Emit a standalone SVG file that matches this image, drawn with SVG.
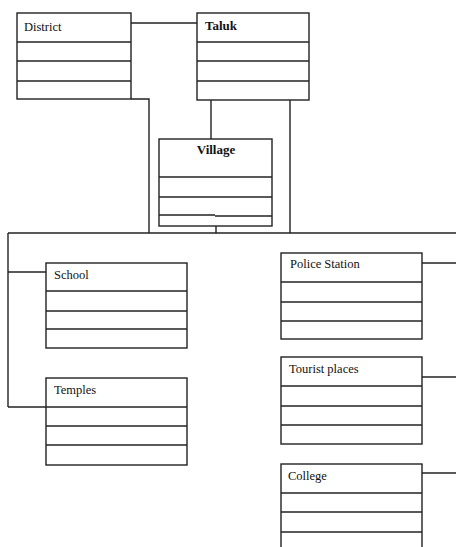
<svg xmlns="http://www.w3.org/2000/svg" width="456" height="547" viewBox="0 0 456 547">
  <style>
    .box { fill: #fff; stroke: #222; stroke-width: 1.4; }
    .div { stroke: #222; stroke-width: 1.4; }
    .conn { fill: none; stroke: #222; stroke-width: 1.4; }
    .lbl { font-family: "Liberation Serif", "Times New Roman", serif; font-size: 12.5px; fill: #111; }
    .bold { font-weight: bold; font-size: 13px; }
  </style>
  <rect width="456" height="547" fill="#fff"/>

  <!-- connectors -->
  <g id="connectors">
    <line class="conn" x1="131" y1="23" x2="197" y2="23"/>
    <polyline class="conn" points="131,99 149,99 149,233"/>
    <line class="conn" x1="211" y1="100" x2="211" y2="139"/>
    <line class="conn" x1="290" y1="100" x2="290" y2="233"/>
    <line class="conn" x1="216" y1="226" x2="216" y2="233"/>
    <line class="conn" x1="8" y1="233" x2="456" y2="233"/>
    <line class="conn" x1="8" y1="233" x2="8" y2="407"/>
    <line class="conn" x1="8" y1="272" x2="46" y2="272"/>
    <line class="conn" x1="8" y1="407" x2="46" y2="407"/>
    <line class="conn" x1="422" y1="263" x2="456" y2="263"/>
    <line class="conn" x1="422" y1="377" x2="456" y2="377"/>
    <line class="conn" x1="422" y1="473" x2="456" y2="473"/>
  </g>

  <g id="district">
    <rect class="box" x="17" y="13" width="114" height="86"/>
    <line class="div" x1="17" y1="42" x2="131" y2="42"/>
    <line class="div" x1="17" y1="61" x2="131" y2="61"/>
    <line class="div" x1="17" y1="81" x2="131" y2="81"/>
    <text class="lbl" x="24" y="31">District</text>
  </g>

  <g id="taluk">
    <rect class="box" x="197" y="13" width="112" height="87"/>
    <line class="div" x1="197" y1="42" x2="309" y2="42"/>
    <line class="div" x1="197" y1="61" x2="309" y2="61"/>
    <line class="div" x1="197" y1="81" x2="309" y2="81"/>
    <text class="lbl bold" x="205" y="30">Taluk</text>
  </g>

  <g id="village">
    <rect class="box" x="159" y="139" width="113" height="87"/>
    <line class="div" x1="159" y1="177" x2="272" y2="177"/>
    <line class="div" x1="159" y1="197" x2="272" y2="197"/>
    <line class="div" x1="159" y1="215" x2="215" y2="215"/>
    <line class="div" x1="215" y1="216" x2="272" y2="216"/>
    <text class="lbl bold" x="216" y="154" text-anchor="middle">Village</text>
  </g>

  <g id="school">
    <rect class="box" x="46" y="263" width="141" height="85"/>
    <line class="div" x1="46" y1="291" x2="187" y2="291"/>
    <line class="div" x1="46" y1="311" x2="187" y2="311"/>
    <line class="div" x1="46" y1="329" x2="187" y2="329"/>
    <text class="lbl" x="54" y="279">School</text>
  </g>

  <g id="temples">
    <rect class="box" x="46" y="378" width="141" height="87"/>
    <line class="div" x1="46" y1="407" x2="187" y2="407"/>
    <line class="div" x1="46" y1="426" x2="187" y2="426"/>
    <line class="div" x1="46" y1="445" x2="187" y2="445"/>
    <text class="lbl" x="54" y="394">Temples</text>
  </g>

  <g id="police-station">
    <rect class="box" x="281" y="253" width="141" height="86"/>
    <line class="div" x1="281" y1="282" x2="422" y2="282"/>
    <line class="div" x1="281" y1="302" x2="422" y2="302"/>
    <line class="div" x1="281" y1="321" x2="422" y2="321"/>
    <text class="lbl" x="290" y="268">Police Station</text>
  </g>

  <g id="tourist-places">
    <rect class="box" x="281" y="357" width="141" height="87"/>
    <line class="div" x1="281" y1="386" x2="422" y2="386"/>
    <line class="div" x1="281" y1="406" x2="422" y2="406"/>
    <line class="div" x1="281" y1="425" x2="422" y2="425"/>
    <text class="lbl" x="289" y="373">Tourist places</text>
  </g>

  <g id="college">
    <rect class="box" x="281" y="464" width="141" height="90"/>
    <line class="div" x1="281" y1="493" x2="422" y2="493"/>
    <line class="div" x1="281" y1="512" x2="422" y2="512"/>
    <line class="div" x1="281" y1="532" x2="422" y2="532"/>
    <text class="lbl" x="288" y="480">College</text>
  </g>
</svg>
